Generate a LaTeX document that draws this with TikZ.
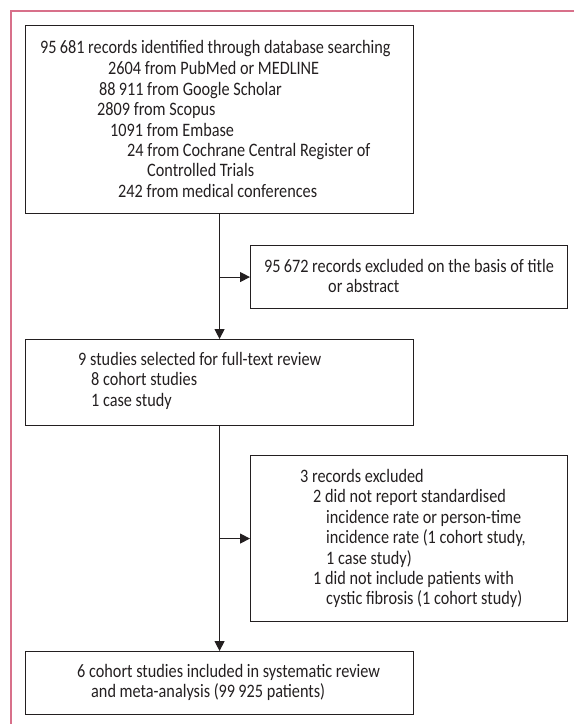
\documentclass[tikz,border=0pt]{standalone}
\usepackage{fontspec}
\setmainfont{Carlito}
\usetikzlibrary{arrows.meta}
\newlength\reflen
\definecolor{framepink}{HTML}{D8708A}
\definecolor{ink}{HTML}{231F20}
\begin{document}
\settowidth\reflen{\fontsize{19}{20.6}\selectfont 95\,681 records identified through database searching}%
\pgfmathsetmacro\mystretch{350/\reflen}%
\newfontfamily\lancet{Carlito}[FakeStretch=\mystretch]%
\begin{tikzpicture}[x=1pt,y=-1pt]
\tikzset{
  box/.style={draw=ink, line width=1.1pt, anchor=north west, inner sep=0pt},
  txt/.style={inner sep=0pt, anchor=base west, text=ink, font=\lancet\fontsize{19}{20.6}\selectfont},
  arr/.style={draw=ink, line width=1.1pt, -{Triangle[length=10pt,width=10pt]}},
  frame/.style={draw=framepink, line width=1.2pt}
}
\useasboundingbox (0,0) rectangle (574,724);
\draw[frame] (574,11) -- (11,11) -- (11,724);
% boxes
\node[box, minimum width=388pt, minimum height=188pt] (b1) at (25,25) {};
\node[box, minimum width=317pt, minimum height=63pt] (b2) at (250,245) {};
\node[box, minimum width=388pt, minimum height=86pt] (b3) at (25,339) {};
\node[box, minimum width=317pt, minimum height=166pt] (b4) at (250,455) {};
\node[box, minimum width=388pt, minimum height=63pt] (b5) at (25,651) {};
% box 1 text
\node[txt] (t11) at (40,53) {95\,681 records identified through database searching};
\node[txt] (t12) at (108,74) {2604 from PubMed or MEDLINE};
\node[txt] (t13) at (99,95) {88\,911 from Google Scholar};
\node[txt] (t14) at (97,115) {2809 from Scopus};
\node[txt] (t15) at (110,136) {1091 from Embase};
\node[txt] (t16) at (127,156) {24 from Cochrane Central Register of};
\node[txt] (t17) at (147,176) {Controlled Trials};
\node[txt] (t18) at (118,197) {242 from medical conferences};
% box 2 text
\node[txt] (t21) at (264,272) {95\,672 records excluded on the basis of title};
\node[txt] (t22) at (328,292) {or abstract};
% box 3 text
\node[txt] (t31) at (78,365) {9 studies selected for full-text review};
\node[txt] (t32) at (91,385) {8 cohort studies};
\node[txt] (t33) at (91,406) {1 case study};
% box 4 text
\node[txt] (t41) at (300,482) {3 records excluded};
\node[txt] (t42) at (313,502) {2 did not report standardised};
\node[txt] (t43) at (326,523) {incidence rate or person-time};
\node[txt] (t44) at (326,543) {incidence rate (1 cohort study,};
\node[txt] (t45) at (326,564) {1 case study)};
\node[txt] (t46) at (313,584) {1 did not include patients with};
\node[txt] (t47) at (326,604) {cystic fibrosis (1 cohort study)};
% box 5 text
\node[txt] (t51) at (77,677) {6 cohort studies included in systematic review};
\node[txt] (t52) at (91,697) {and meta-analysis (99\,925 patients)};
% connectors
\draw[arr] (b1.south) -- (b3.north);
\draw[arr] (b1.south |- b2.west) -- (b2.west);
\draw[arr] (b3.south) -- (b5.north);
\draw[arr] (b3.south |- b4.west) -- (b4.west);
\end{tikzpicture}
\end{document}
